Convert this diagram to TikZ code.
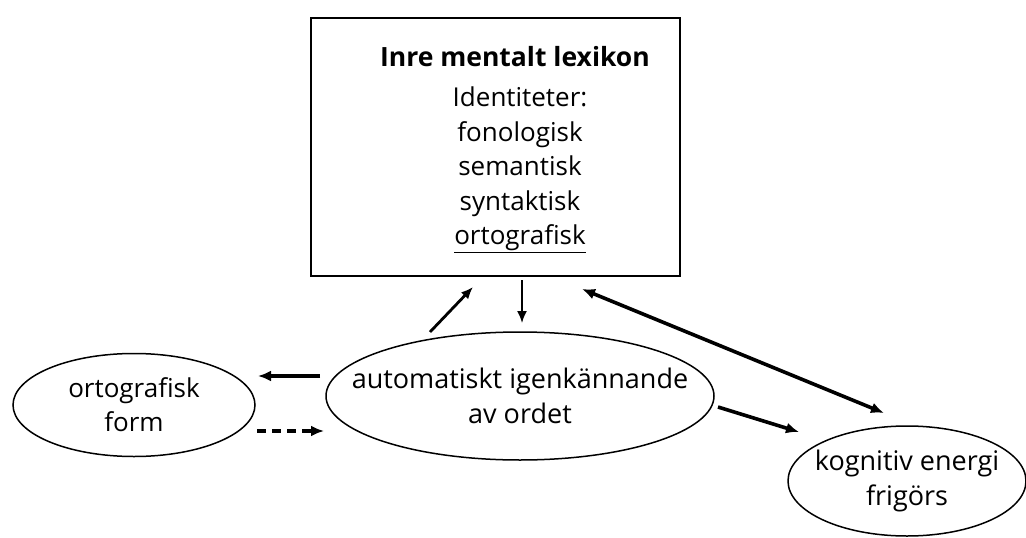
\documentclass[tikz,border=0pt]{standalone}
\usepackage{fontspec}
\setmainfont{Open Sans}
\usetikzlibrary{shapes.geometric,arrows.meta}
\begin{document}
\begin{tikzpicture}[x=1pt,y=-1pt,
  frame/.style={draw, line width=1.8pt, inner sep=0pt},
  % negative separation keeps the oval at its set size around the text
  oval/.style={draw, ellipse, line width=1.5pt, inner xsep=-70pt, inner ysep=-15pt,
    align=center, font=\fontsize{27}{35}\selectfont},
  thin arrow/.style={line width=1.8pt, -{Latex[length=12pt,width=10pt]}},
  bold arrow/.style={line width=3.6pt, -{Latex[length=13pt,width=11pt]}},
  both arrow/.style={line width=3.6pt, {Latex[length=13pt,width=11pt]}-{Latex[length=13pt,width=11pt]}},
  dashed arrow/.style={bold arrow, dash pattern=on 9pt off 6pt},
]
\useasboundingbox (0,0) rectangle (1026,538);

% mental lexicon box
\node[frame, minimum width=369pt, minimum height=258pt] (lex) at (495.5,147) {};
\node[font=\fontsize{26.5}{30}\selectfont\bfseries] (title) at (515,57) {Inre mentalt lexikon};
\node[align=center, font=\fontsize{26}{34.5}\selectfont] (ids) at (520,170)
  {Identiteter:\\fonologisk\\semantisk\\syntaktisk\\\underline{ortografisk}};

% ovals
\node[oval, minimum width=242pt, minimum height=103pt, font=\fontsize{26}{34}\selectfont] (form) at (134,405) {ortografisk\\form};
\node[oval, minimum width=388pt, minimum height=128pt] (auto) at (520,396) {automatiskt igenkännande\\av ordet};
\node[oval, minimum width=238pt, minimum height=110pt] (kog) at (907,481) {kognitiv energi\\frigörs};

% free-floating arrow ends
\coordinate (upS) at (430,332);
\coordinate (upE) at (473,287);
\coordinate (dnS) at (522,280);
\coordinate (dnE) at (522,323);
\coordinate (lfS) at (320,376);
\coordinate (lfE) at (258,376);
\coordinate (dsS) at (257,431);
\coordinate (dsE) at (324,431);
\coordinate (kgS) at (718,407);
\coordinate (kgE) at (799,432);
\coordinate (dbS) at (582,289);
\coordinate (dbE) at (884,413);

\draw[thin arrow, line width=2.8pt] (upS) -- (upE);
\draw[thin arrow] (dnS) -- (dnE);
\draw[bold arrow] (lfS) -- (lfE);
\draw[dashed arrow] (dsS) -- (dsE);
\draw[bold arrow] (kgS) -- (kgE);
\draw[both arrow] (dbS) -- (dbE);
\end{tikzpicture}
\end{document}
